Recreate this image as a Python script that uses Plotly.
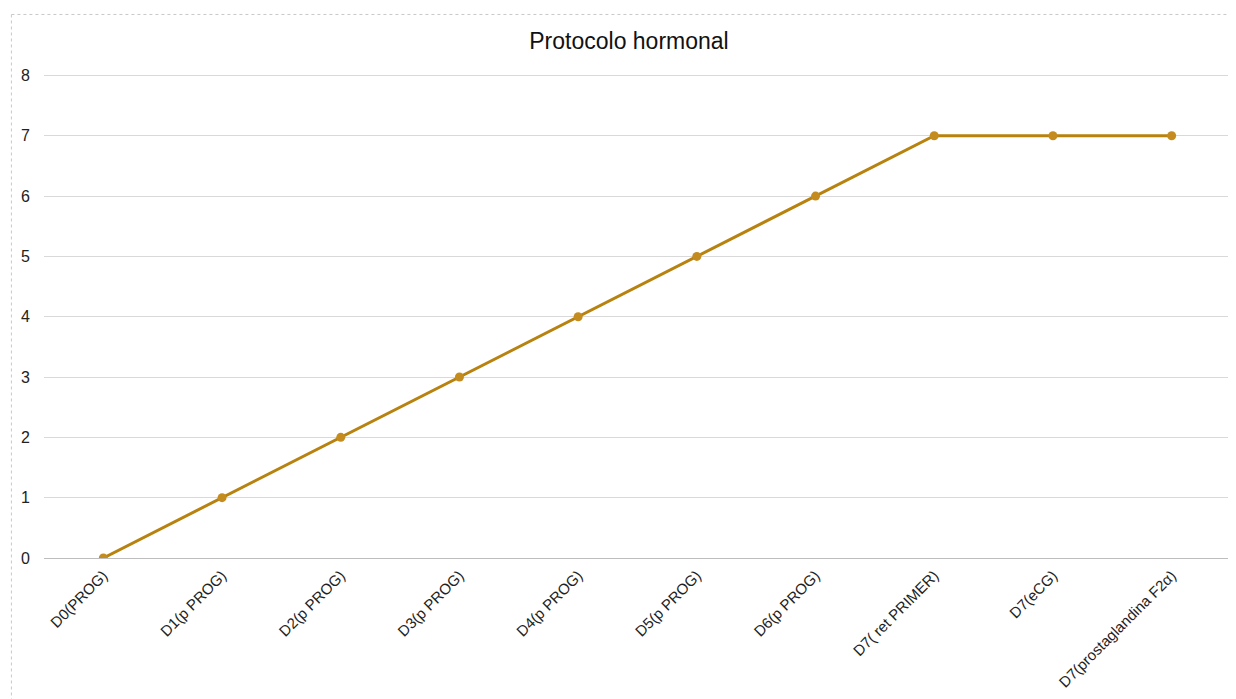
import plotly.graph_objects as go

categories = ["D0(PROG)", "D1(p PROG)", "D2(p PROG)", "D3(p PROG)", "D4(p PROG)",
              "D5(p PROG)", "D6(p PROG)", "D7( ret PRIMER)", "D7(eCG)",
              "D7(prostaglandina F2α)"]
values = [0, 1, 2, 3, 4, 5, 6, 7, 7, 7]
y_ticks = [0, 1, 2, 3, 4, 5, 6, 7, 8]

# page body has an 8px margin; compensate
OFF = 8
W, H = 1228, 691
YMAX = 8.04
y8_px, y0_px = 75 - OFF, 558 - OFF
ph = (y0_px - y8_px) * YMAX / 8
T = y0_px - ph
L = 43.6 - OFF
R = W - (1231 - OFF)
B = H - y0_px
pw = W - L - R

fig = go.Figure()
fig.add_trace(go.Scatter(
    x=categories, y=values, mode="lines+markers",
    line=dict(color="#B8820F", width=3),
    marker=dict(color="#C48C1E", size=9),
    showlegend=False,
))

fig.update_layout(
    width=W, height=H,
    margin=dict(l=L, r=R, t=T, b=B, pad=0, autoexpand=False),
    paper_bgcolor="white", plot_bgcolor="white",
    font=dict(family="Liberation Sans, Arial, sans-serif", size=15, color="#222"),
    title=dict(text="Protocolo hormonal", x=(629 - OFF) / W, xanchor="center",
               y=1 - (41 - OFF) / H, yanchor="middle",
               font=dict(size=23, color="#111")),
    xaxis=dict(
        type="category", tickangle=-45, showgrid=False, automargin=False,
        showline=True, linecolor="#bdbdbd", linewidth=1,
        ticks="outside", ticklen=2, tickcolor="rgba(0,0,0,0)",
        tickfont=dict(size=15, color="#222"),
        range=[-0.5, len(categories) - 0.5],
    ),
    yaxis=dict(
        range=[0, YMAX], tickvals=y_ticks, showgrid=True, gridcolor="#d9d9d9",
        gridwidth=1, zeroline=False, showline=False, automargin=False,
        ticks="outside", ticklen=10, tickcolor="rgba(0,0,0,0)",
        tickfont=dict(size=16, color="#222"),
    ),
)

# dotted outer border of chart box (only left and top edges visible)
bx = (11 - OFF - L) / pw
by = (ph + T - (14 - OFF)) / ph
border = dict(color="#c8c8c8", width=1, dash="dot")
fig.add_shape(type="line", xref="paper", yref="paper",
              x0=bx, x1=bx, y0=by, y1=-(B + 20) / ph, line=border, layer="below")
fig.add_shape(type="line", xref="paper", yref="paper",
              x0=bx, x1=(W + 20 - L) / pw, y0=by, y1=by, line=border, layer="below")

fig.write_html("out.html")
